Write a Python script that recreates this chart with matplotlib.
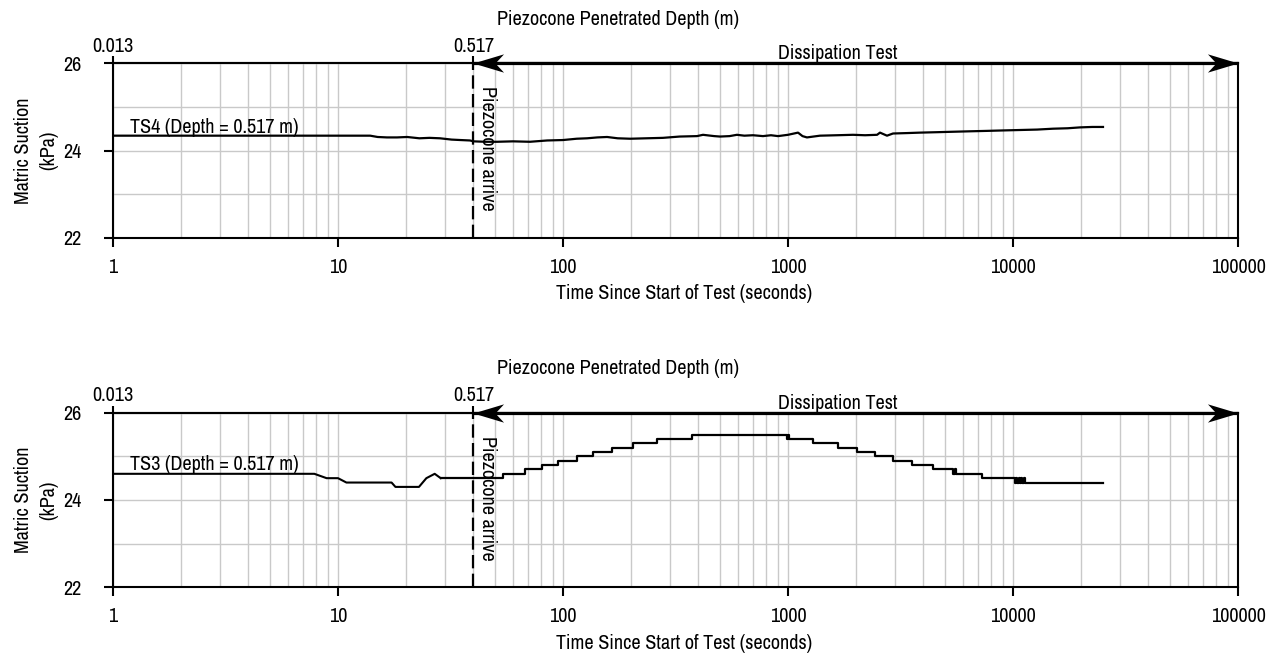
import numpy as np
import matplotlib
matplotlib.use("Agg")
import matplotlib.pyplot as plt
from matplotlib.path import Path
from matplotlib.ticker import FixedLocator, FuncFormatter, LogLocator, NullLocator

plt.rcParams["font.family"] = ["Archivo Narrow", "DejaVu Sans"]

# ---- data -------------------------------------------------------------
# TS4 sensor: time (s) and matric suction (kPa)
ts4_time = [1, 13.9, 15, 16.5, 18.3, 20.3, 23, 25.5, 28.4, 32, 35, 38.6, 40, 45,
            50.9, 60, 71.3, 85, 100, 115, 128, 142, 157, 175, 199, 235, 278, 330,
            394, 419, 470, 499, 550, 593, 640, 699, 774, 840, 903, 1000, 1108, 1160,
            1214, 1387, 1650, 1944, 2200, 2488, 2564, 2754, 2929, 3400, 3862, 4600,
            5410, 6400, 7660, 9000, 10740, 12800, 15060, 17500, 19850, 22500, 25120]
ts4_suction = [24.34, 24.34, 24.31, 24.30, 24.30, 24.31, 24.28, 24.29, 24.28, 24.25,
               24.24, 24.23, 24.21, 24.20, 24.20, 24.21, 24.20, 24.23, 24.24, 24.27,
               24.28, 24.30, 24.31, 24.28, 24.27, 24.28, 24.29, 24.32, 24.33, 24.36,
               24.33, 24.32, 24.33, 24.36, 24.34, 24.35, 24.33, 24.35, 24.33, 24.36,
               24.41, 24.33, 24.30, 24.34, 24.35, 24.36, 24.35, 24.36, 24.41, 24.34,
               24.39, 24.40, 24.41, 24.42, 24.43, 24.44, 24.45, 24.46, 24.47, 24.48,
               24.50, 24.51, 24.53, 24.54, 24.54]

# TS3 sensor, early part (sloped transitions)
ts3_time_early = [1, 7.85, 8.9, 10.0, 10.9, 17.3, 18.0, 22.9, 24.7, 26.9, 28.6]
ts3_suction_early = [24.6, 24.6, 24.5, 24.5, 24.4, 24.4, 24.3, 24.3, 24.5, 24.6, 24.5]

# TS3 sensor, later part (stepwise readings: time of change, new level)
ts3_time_steps = [28.6, 54.3, 67.8, 80.4, 95.3, 115, 136.4, 164.4, 205, 260.8, 373,
                  986, 1000, 1010, 1291, 1668, 2027, 2436, 2929, 3556, 4408, 5410, 5500,
                  5560, 7278, 10200, 10330, 10460, 10600, 10740, 10880, 11020, 11160,
                  11300, 25120]
ts3_suction_steps = [24.5, 24.6, 24.7, 24.8, 24.9, 25.0, 25.1, 25.2, 25.3, 25.4, 25.5,
                     25.4, 25.5, 25.4, 25.3, 25.2, 25.1, 25.0, 24.9, 24.8, 24.7, 24.6, 24.7,
                     24.6, 24.5, 24.4, 24.5, 24.4, 24.5, 24.4, 24.5, 24.4, 24.5,
                     24.4, 24.4]

arrival_time = 40            # piezocone arrives at the sensor depth (s)
depth_times = [1, 40]
depth_labels = ["0.013", "0.517"]
dissipation_label_time = 1668
x_ticks = [1, 10, 100, 1000, 10000, 100000]
y_major = [22, 24, 26]
y_minor = [23, 25]

# ---- figure -------------------------------------------------------------
W, H = 1270, 660
fig = plt.figure(figsize=(W / 100, H / 100), dpi=100)


def px_axes(left, right, top, bottom):
    return fig.add_axes([left / W, 1 - bottom / H, (right - left) / W, (bottom - top) / H])


ax_top = px_axes(113, 1238, 63.3, 237.7)
ax_bot = px_axes(113, 1238, 412.7, 587.3)

# notched arrow heads
head_r = Path([(0, 0), (-1, 0.3), (-0.72, 0), (-1, -0.3), (0, 0)],
              [Path.MOVETO, Path.LINETO, Path.LINETO, Path.LINETO, Path.CLOSEPOLY])
head_l = Path([(0, 0), (1, 0.3), (0.72, 0), (1, -0.3), (0, 0)],
              [Path.MOVETO, Path.LINETO, Path.LINETO, Path.LINETO, Path.CLOSEPOLY])

TICK_FS = 14.5
LABEL_FS = 14.5


def style_axes(ax, sensor_label, label_y):
    ax.set_xscale("log")
    ax.set_xlim(x_ticks[0], x_ticks[-1])
    ax.set_ylim(y_major[0], y_major[-1])
    ax.xaxis.set_major_locator(FixedLocator(x_ticks))
    ax.xaxis.set_minor_locator(LogLocator(base=10, subs=np.arange(2, 10)))
    ax.xaxis.set_major_formatter(FuncFormatter(lambda v, _: f"{v:.0f}"))
    ax.xaxis.set_minor_formatter(FuncFormatter(lambda v, _: ""))
    ax.yaxis.set_major_locator(FixedLocator(y_major))
    ax.yaxis.set_minor_locator(FixedLocator(y_minor))
    ax.set_axisbelow(True)
    ax.grid(which="both", color="#c9c9c9", lw=1.0)
    for s in ax.spines.values():
        s.set_linewidth(1.5)
        s.set_color("black")
    ax.tick_params(axis="x", which="major", direction="out", length=6.5, width=1.5,
                   labelsize=TICK_FS, pad=8)
    ax.tick_params(axis="y", which="major", direction="out", length=6.5, width=1.5,
                   labelsize=TICK_FS, pad=16)
    ax.tick_params(which="minor", length=0)

    # depth axis on top
    sec = ax.secondary_xaxis("top")
    sec.set_xticks(depth_times, labels=depth_labels)
    sec.xaxis.set_minor_locator(NullLocator())
    sec.tick_params(direction="out", length=5, width=1.5, labelsize=TICK_FS, pad=0.5)
    sec.spines["top"].set_linewidth(1.5)

    # arrival marker
    ax.plot([arrival_time, arrival_time], [y_major[0], y_major[-1]], color="black",
            lw=1.6, ls=(0, (6, 2.4)), zorder=4)
    ax.text(arrival_time * 1.16, 25.47, "Piezocone arrive", rotation=270,
            ha="center", va="top", fontsize=LABEL_FS, zorder=5)

    # dissipation arrow
    ax.plot([arrival_time, x_ticks[-1]], [y_major[-1]] * 2, color="black", lw=2.3,
            solid_capstyle="butt", clip_on=False, zorder=6)
    ax.plot([x_ticks[-1]], [y_major[-1]], marker=head_r, markersize=44, color="black",
            markeredgewidth=0, clip_on=False, zorder=7, ls="none")
    ax.plot([arrival_time], [y_major[-1]], marker=head_l, markersize=44, color="black",
            markeredgewidth=0, clip_on=False, zorder=7, ls="none")
    ax.text(dissipation_label_time, y_major[-1], "Dissipation Test", ha="center",
            va="bottom", fontsize=LABEL_FS, clip_on=False, zorder=7)

    ax.text(1.19, label_y, sensor_label, ha="left", va="baseline", fontsize=LABEL_FS,
            zorder=5)


style_axes(ax_top, "TS4 (Depth = 0.517 m)", 24.41)
style_axes(ax_bot, "TS3 (Depth = 0.517 m)", 24.68)

ax_top.plot(ts4_time, ts4_suction, color="black", lw=1.6, zorder=3)
ax_bot.plot(ts3_time_early, ts3_suction_early, color="black", lw=1.5, zorder=3)
ax_bot.step(ts3_time_steps, ts3_suction_steps, where="post", color="black", lw=1.6, zorder=3)

# panel labels placed in figure pixels
for axis_top, axis_bottom in [(63.3, 237.7), (412.7, 587.3)]:
    fig.text(618 / W, 1 - (axis_top - 44) / H, "Piezocone Penetrated Depth (m)",
             ha="center", va="center", fontsize=LABEL_FS)
    fig.text(684 / W, 1 - (axis_bottom + 56) / H, "Time Since Start of Test (seconds)",
             ha="center", va="center", fontsize=LABEL_FS)
    fig.text(36 / W, 1 - ((axis_top + axis_bottom) / 2) / H, "Matric Suction\n(kPa)",
             ha="center", va="center", rotation=90, fontsize=LABEL_FS,
             multialignment="center", linespacing=1.45)

fig.savefig("out.png", dpi=100, facecolor="white")
